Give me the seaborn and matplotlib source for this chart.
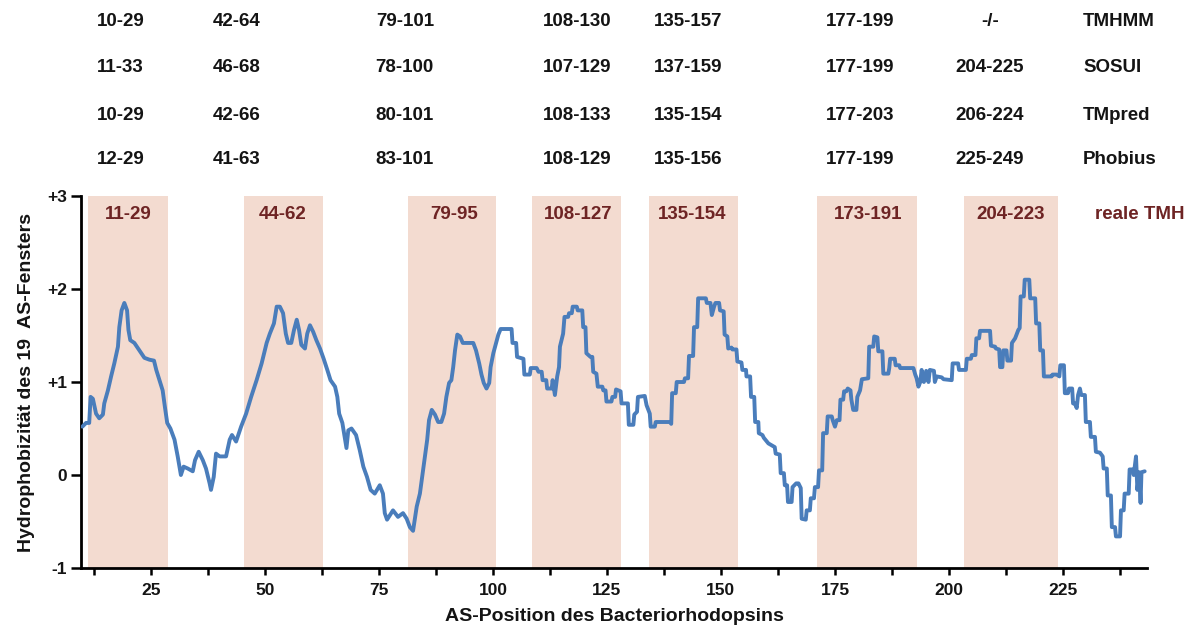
import matplotlib
matplotlib.use("Agg")
import matplotlib.pyplot as plt
import matplotlib.transforms as mtransforms
import seaborn as sns
import pandas as pd

# Hydropathy profile (19-residue window) along the bacteriorhodopsin sequence
position = [
    10.0, 10.8, 11.5, 11.8, 12.3, 13.0, 13.7, 14.5, 14.8, 15.6, 16.3, 17.0, 17.8, 18.1,
    18.6, 19.2, 19.8, 20.1, 20.5, 21.4, 22.5, 23.6, 24.7, 25.7, 26.2, 26.9, 27.6, 28.1,
    28.6, 29.3, 30.2, 30.9, 31.6, 32.2, 33.1, 34.2, 34.7, 35.5, 36.4, 37.1, 37.9, 38.2,
    38.8, 39.3, 40.1, 41.5, 42.3, 42.8, 43.7, 44.8, 45.9, 47.0, 48.2, 49.3, 50.4, 51.1,
    52.0, 52.6, 53.3, 54.0, 54.6, 55.1, 55.8, 56.4, 57.0, 57.5, 58.0, 58.8, 59.3, 59.9,
    60.6, 61.3, 62.1, 62.9, 63.7, 64.4, 65.4, 65.9, 66.3, 67.0, 67.9, 68.3, 69.0, 70.0,
    70.8, 71.6, 72.4, 73.2, 74.1, 75.2, 75.9, 76.3, 76.8, 78.1, 79.2, 80.3, 81.1, 81.8,
    82.5, 83.3, 84.0, 84.6, 85.1, 85.6, 86.0, 86.6, 87.3, 88.0, 88.7, 89.3, 89.8, 90.4,
    90.9, 91.3, 91.7, 92.2, 92.8, 93.4, 94.6, 95.7, 96.3, 97.0, 97.5, 98.0, 98.6, 99.2,
    99.5, 100.1, 100.7, 101.2, 101.7, 104.1, 104.3, 105.1, 105.3, 106.7, 106.9, 108.1,
    108.3, 109.6, 110.0, 110.7, 110.9, 111.7, 111.9, 112.9, 113.1, 113.6, 114.1, 114.5,
    114.7, 115.4, 115.7, 116.5, 116.7, 117.3, 117.5, 118.4, 118.6, 119.6, 119.8, 120.3,
    120.5, 121.4, 121.8, 122.0, 122.7, 123.0, 124.0, 124.2, 124.7, 124.9, 126.0, 126.2,
    126.8, 127.0, 128.0, 128.2, 129.6, 129.8, 130.8, 131.0, 131.6, 131.8, 133.3, 133.7,
    134.4, 134.6, 135.5, 135.7, 138.8, 139.1, 139.3, 140.1, 140.3, 141.9, 142.1, 142.8,
    143.0, 143.9, 144.1, 144.8, 145.0, 146.7, 146.9, 147.7, 148.0, 148.5, 148.8, 149.6,
    149.8, 150.6, 150.8, 151.4, 151.6, 152.3, 152.5, 153.4, 153.6, 154.5, 154.7, 155.5,
    155.6, 156.4, 156.6, 157.3, 157.5, 158.2, 158.3, 159.1, 159.4, 160.4, 161.1, 161.8,
    162.0, 162.9, 163.1, 163.8, 164.0, 164.5, 164.7, 165.5, 165.7, 166.5, 167.0, 167.5,
    167.7, 168.6, 168.8, 169.5, 169.7, 170.4, 170.6, 171.3, 171.5, 172.2, 172.4, 173.2,
    173.4, 174.3, 174.5, 175.0, 175.4, 176.0, 176.2, 176.8, 177.0, 177.5, 177.8, 178.4,
    178.6, 179.0, 179.7, 179.9, 180.5, 180.9, 182.3, 182.5, 183.4, 183.6, 184.3, 184.5,
    185.4, 185.6, 186.7, 186.9, 187.1, 188.1, 188.3, 189.1, 189.3, 192.2, 192.6, 192.9,
    193.3, 193.7, 194.0, 194.5, 195.0, 195.5, 195.8, 196.7, 196.9, 197.3, 198.4, 198.8,
    200.6, 200.8, 202.0, 202.2, 203.7, 203.9, 204.8, 205.0, 205.8, 206.0, 206.6, 206.8,
    209.0, 209.2, 210.1, 210.3, 211.0, 211.2, 211.7, 211.9, 212.6, 212.8, 213.6, 213.8,
    214.5, 215.2, 215.5, 215.7, 216.4, 216.6, 217.6, 217.8, 218.9, 219.1, 219.8, 220.0,
    220.6, 220.8, 222.5, 222.7, 223.6, 224.2, 224.4, 225.2, 225.4, 226.1, 226.3, 227.0,
    227.2, 227.6, 228.0, 228.3, 228.7, 229.0, 229.8, 230.0, 230.9, 231.1, 232.0, 232.2,
    233.1, 233.7, 233.9, 234.6, 234.8, 235.5, 235.7, 236.4, 236.6, 237.5, 237.7, 238.3,
    238.5, 239.4, 239.6, 240.3, 240.5, 241.0, 241.3, 241.7, 242.0, 242.2, 242.9,
]
hydrophobicity = [
    0.52, 0.56, 0.56, 0.84, 0.82, 0.66, 0.61, 0.65, 0.77, 0.91, 1.06, 1.20, 1.38, 1.59,
    1.77, 1.85, 1.77, 1.56, 1.45, 1.42, 1.34, 1.26, 1.24, 1.23, 1.13, 1.02, 0.91, 0.73,
    0.56, 0.50, 0.38, 0.20, 0.00, 0.09, 0.07, 0.04, 0.16, 0.25, 0.16, 0.07, -0.09, -0.16,
    -0.02, 0.23, 0.20, 0.20, 0.38, 0.43, 0.36, 0.52, 0.66, 0.84, 1.02, 1.20, 1.42, 1.52,
    1.63, 1.81, 1.81, 1.74, 1.52, 1.42, 1.42, 1.56, 1.67, 1.56, 1.40, 1.36, 1.52, 1.61,
    1.54, 1.45, 1.36, 1.25, 1.13, 1.02, 0.95, 0.84, 0.66, 0.56, 0.29, 0.48, 0.50, 0.43,
    0.27, 0.09, -0.02, -0.16, -0.20, -0.11, -0.20, -0.41, -0.48, -0.38, -0.45, -0.41, -0.47, -0.56,
    -0.60, -0.34, -0.20, 0.02, 0.20, 0.38, 0.59, 0.70, 0.65, 0.57, 0.57, 0.66, 0.84, 0.99,
    1.02, 1.16, 1.34, 1.51, 1.49, 1.42, 1.42, 1.42, 1.34, 1.20, 1.08, 0.99, 0.93, 0.99,
    1.16, 1.31, 1.42, 1.51, 1.57, 1.57, 1.42, 1.42, 1.27, 1.25, 1.08, 1.08,
    1.15, 1.15, 1.11, 1.11, 1.02, 1.02, 0.93, 0.93, 1.02, 0.86, 1.06, 1.16,
    1.38, 1.52, 1.70, 1.70, 1.74, 1.74, 1.81, 1.81, 1.77, 1.77, 1.59, 1.59,
    1.31, 1.27, 1.27, 1.11, 1.09, 0.95, 0.95, 0.91, 0.91, 0.79, 0.79, 0.84,
    0.84, 0.92, 0.90, 0.77, 0.77, 0.54, 0.54, 0.65, 0.68, 0.84, 0.85, 0.75,
    0.66, 0.52, 0.52, 0.57, 0.57, 0.55, 0.88, 0.88, 1.00, 1.00, 1.04, 1.04,
    1.28, 1.28, 1.59, 1.59, 1.90, 1.90, 1.85, 1.85, 1.72, 1.81, 1.85, 1.85,
    1.77, 1.76, 1.51, 1.49, 1.36, 1.37, 1.35, 1.35, 1.22, 1.21, 1.13, 1.13,
    1.06, 1.06, 0.84, 0.84, 0.57, 0.57, 0.45, 0.43, 0.40, 0.34, 0.32, 0.30,
    0.23, 0.22, 0.02, 0.02, -0.11, -0.11, -0.29, -0.29, -0.13, -0.09, -0.09, -0.14,
    -0.47, -0.48, -0.38, -0.38, -0.25, -0.25, -0.13, -0.13, 0.05, 0.05, 0.45, 0.45,
    0.63, 0.63, 0.59, 0.52, 0.59, 0.59, 0.81, 0.81, 0.90, 0.90, 0.93, 0.91,
    0.81, 0.70, 0.70, 0.84, 0.91, 1.03, 1.04, 1.38, 1.38, 1.49, 1.48, 1.33,
    1.33, 1.09, 1.09, 1.15, 1.25, 1.25, 1.18, 1.18, 1.15, 1.15, 1.08, 1.04,
    0.95, 1.00, 1.13, 1.00, 1.12, 1.00, 1.13, 1.12, 1.00, 1.06, 1.05, 1.03,
    1.02, 1.20, 1.20, 1.13, 1.13, 1.25, 1.25, 1.29, 1.29, 1.47, 1.47, 1.55,
    1.55, 1.39, 1.38, 1.36, 1.35, 1.16, 1.16, 1.34, 1.34, 1.23, 1.23, 1.42,
    1.47, 1.56, 1.58, 1.92, 1.92, 2.10, 2.10, 1.90, 1.90, 1.63, 1.63, 1.34,
    1.34, 1.06, 1.06, 1.08, 1.08, 1.06, 1.18, 1.18, 0.88, 0.88, 0.93, 0.93,
    0.77, 0.77, 0.72, 0.86, 0.93, 0.86, 0.86, 0.57, 0.57, 0.41, 0.41, 0.25,
    0.24, 0.20, 0.07, 0.07, -0.22, -0.22, -0.56, -0.56, -0.66, -0.66, -0.38, -0.38,
    -0.20, -0.20, 0.06, 0.06, 0.00, 0.20, -0.16, 0.03, -0.30, 0.03, 0.04,
]

# Shaded transmembrane helix bands
band_start = [11.2, 45.4, 81.4, 108.6, 134.2, 171.0, 203.3]
band_end = [28.7, 62.7, 100.7, 128.0, 153.7, 193.0, 224.0]

# Experimentally determined helices (labels inside the plot)
real_tmh = ["11-29", "44-62", "79-95", "108-127", "135-154", "173-191", "204-223"]
real_tmh_x = [20.0, 53.9, 91.4, 118.6, 143.6, 182.2, 213.6]

# Predicted helices from the four prediction programs
methods = ["TMHMM", "SOSUI", "TMpred", "Phobius"]
predictions = {
    "TMHMM": ["10-29", "42-64", "79-101", "108-130", "135-157", "177-199", "-/-"],
    "SOSUI": ["11-33", "46-68", "78-100", "107-129", "137-159", "177-199", "204-225"],
    "TMpred": ["10-29", "42-66", "80-101", "108-133", "135-154", "177-203", "206-224"],
    "Phobius": ["12-29", "41-63", "83-101", "108-129", "135-156", "177-199", "225-249"],
}
pred_x = [18.4, 43.9, 80.7, 118.4, 142.8, 180.5, 209.0]

x_major = [25, 50, 75, 100, 125, 150, 175, 200, 225]
x_minor = [12.5, 37.5, 62.5, 87.5, 112.5, 137.5, 162.5, 187.5, 212.5, 237.5]
y_ticks = [-1, 0, 1, 2, 3]
y_ticklabels = ["-1", "0", "+1", "+2", "+3"]

df = pd.DataFrame({"pos": position, "hyd": hydrophobicity})

sns.set_theme(style="ticks")
plt.rcParams["font.family"] = ["Liberation Sans", "DejaVu Sans"]
plt.rcParams["font.weight"] = "bold"

line_color = "#4a7dbb"
band_color = "#f3dbd0"
red_text = "#6e2424"
black_text = "#141414"

fig = plt.figure(figsize=(11.93, 6.28), dpi=100, facecolor="white")
ax = fig.add_axes([0.0679, 0.0955, 0.8935, 0.5924])
ax.set_facecolor("white")

for s, e in zip(band_start, band_end):
    ax.axvspan(s, e, ymin=0, ymax=1, color=band_color, lw=0, zorder=0)

sns.lineplot(data=df, x="pos", y="hyd", sort=False, estimator=None,
             color=line_color, linewidth=2.8, ax=ax, zorder=3)

ax.set_xlim(9.7, 243.4)
ax.set_ylim(-1, 3)
sns.despine(ax=ax)
for side in ("left", "bottom"):
    ax.spines[side].set_linewidth(2.0)
    ax.spines[side].set_color("black")

ax.set_xticks(x_major)
ax.set_xticks(x_minor, minor=True)
ax.set_xticklabels([str(v) for v in x_major], fontsize=12.5, fontweight="bold",
                   color=black_text)
ax.tick_params(axis="x", which="both", direction="out", length=5, width=1.8,
               color="black", pad=6)
ax.set_yticks(y_ticks)
ax.set_yticklabels(y_ticklabels, fontsize=12.5, fontweight="bold", color=black_text)
ax.tick_params(axis="y", which="major", direction="out", length=7, width=1.8,
               color="black", pad=3)

ax.set_xlabel("AS-Position des Bacteriorhodopsins", fontsize=14, fontweight="bold",
              color=black_text, labelpad=7)
ax.set_ylabel("Hydrophobizität des 19  AS-Fensters", fontsize=14, fontweight="bold",
              color=black_text, labelpad=9)

# labels of the real helices inside the plotting area
for lab, x in zip(real_tmh, real_tmh_x):
    ax.text(x, 2.8, lab, ha="center", va="center", fontsize=13.5,
            fontweight="bold", color=red_text, zorder=4)
ax.text(232.0, 2.8, "reale TMH", ha="left", va="center", fontsize=13.5,
        fontweight="bold", color=red_text, clip_on=False, zorder=4)

# table of predicted helices above the plot
trans = mtransforms.blended_transform_factory(ax.transData, fig.transFigure)
row_y = [1 - 22 / 628, 1 - 68 / 628, 1 - 115 / 628, 1 - 160 / 628]
for method, y in zip(methods, row_y):
    for lab, x in zip(predictions[method], pred_x):
        ax.text(x, y, lab, ha="center", va="center", fontsize=13.5,
                fontweight="bold", color=black_text, transform=trans, clip_on=False)
    ax.text(229.4, y, method, ha="left", va="center", fontsize=13.5,
            fontweight="bold", color=black_text, transform=trans, clip_on=False)

fig.savefig("out.png", dpi=100, facecolor="white")
